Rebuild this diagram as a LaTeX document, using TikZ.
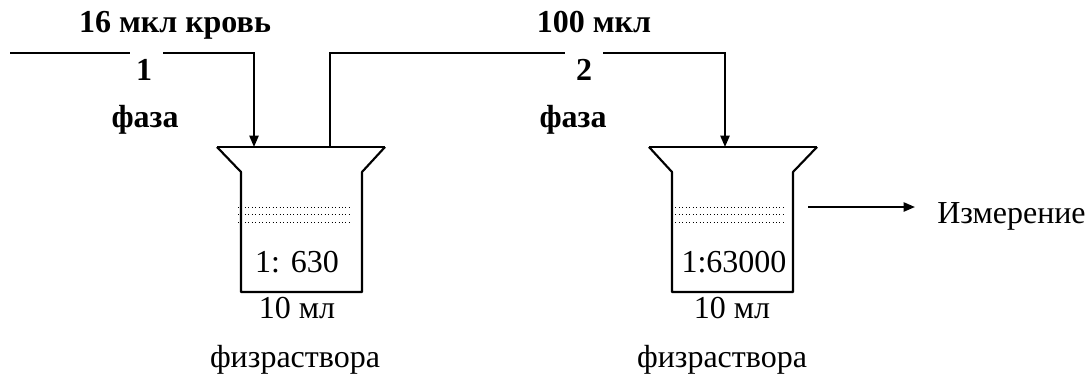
\documentclass[tikz,border=0pt]{standalone}
\usepackage{fontspec}
\setmainfont{Liberation Serif}
\usetikzlibrary{arrows.meta}
\begin{document}
\begin{tikzpicture}[x=0.75pt,y=-0.75pt,
  ln/.style={line width=1.6pt},
  arr/.style={ln,-{Triangle[length=8.5pt,width=6.8pt]}},
  dots/.style={line width=0.6pt,dotted},
  txt/.style={font=\fontsize{24}{28}\selectfont,inner sep=0pt,anchor=base},
  btxt/.style={font=\fontsize{24}{28}\selectfont\bfseries,inner sep=0pt,anchor=base}
]
\useasboundingbox (0,0) rectangle (1091,376);

% beaker 1
\coordinate (r1l) at (217,147); \coordinate (r1r) at (385,147);
\coordinate (in1) at (254,147); \coordinate (out1) at (330,147);
\draw[ln] (r1l) -- (r1r);
\draw[ln,line join=round] (r1l) -- (241,172) -- (241,292) -- (362,292) -- (362,172) -- (r1r);
\foreach \y in {207,214,222} \draw[dots] (238,\y) -- (351,\y);

% beaker 2
\coordinate (r2l) at (649,147); \coordinate (r2r) at (817,147);
\coordinate (in2) at (725,147);
\draw[ln] (r2l) -- (r2r);
\draw[ln,line join=round] (r2l) -- (672,172) -- (672,292) -- (793,292) -- (793,172) -- (r2r);
\foreach \y in {207,214,222} \draw[dots] (672,\y) -- (784,\y);

% connectors
\coordinate (s1) at (10,53); \coordinate (g1a) at (130,53); \coordinate (g1b) at (163,53);
\coordinate (c1) at (254,53);
\draw[ln] (s1) -- (g1a);
\draw[arr] (g1b) -- (c1) -- (in1);

\coordinate (c2a) at (330,53); \coordinate (g2a) at (565,53); \coordinate (g2b) at (603,53);
\coordinate (c2) at (725,53);
\draw[ln] (out1) -- (c2a) -- (g2a);
\draw[arr] (g2b) -- (c2) -- (in2);

\coordinate (m0) at (808,207); \coordinate (m1) at (915,207);
\draw[arr] (m0) -- (m1);

% labels
\node[btxt] (t1) at (175,32) {16 мкл кровь};
\node[btxt] (n1) at (144,80) {1};
\node[btxt] (f1) at (145,127) {фаза};
\node[btxt] (t2) at (594,32) {100 мкл};
\node[btxt] (n2) at (584,80) {2};
\node[btxt] (f2) at (573,127) {фаза};

\node[txt] (d1) at (297,272) {1: 630};
\node[txt] (d2) at (734,272) {1:63000};
\node[txt] (v1) at (297,318) {10 мл};
\node[txt] (v2) at (732,318) {10 мл};
\node[txt] (p1) at (295,367) {физраствора};
\node[txt] (p2) at (722,367) {физраствора};
\node[txt,anchor=base west] (meas) at (937,223) {Измерение};
\end{tikzpicture}
\end{document}
